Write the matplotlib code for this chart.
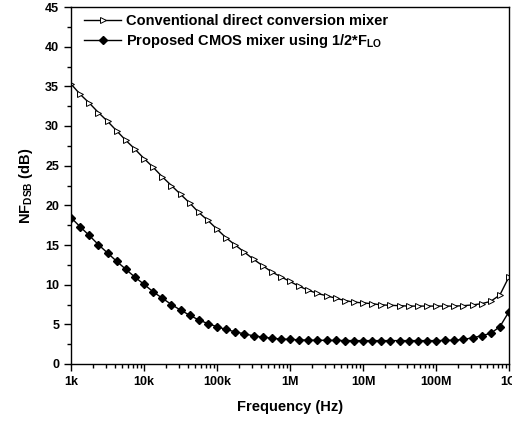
import numpy as np
import matplotlib
matplotlib.use('Agg')
import matplotlib.pyplot as plt
from matplotlib.ticker import LogLocator, MultipleLocator, NullFormatter

plt.rcParams['font.family'] = 'Liberation Sans'
plt.rcParams['font.weight'] = 'bold'
plt.rcParams['mathtext.fontset'] = 'custom'
plt.rcParams['mathtext.rm'] = 'Liberation Sans:bold'
plt.rcParams['mathtext.it'] = 'Liberation Sans:bold'
plt.rcParams['mathtext.bf'] = 'Liberation Sans:bold'

# 8 points per decade, 1 kHz .. 1 GHz
freq = np.logspace(3, 9, 49)

nf_conventional = [
    35.3, 34.0, 32.9, 31.7, 30.6, 29.4, 28.2, 27.1,
    25.9, 24.8, 23.6, 22.5, 21.4, 20.3, 19.1, 18.1,
    17.0, 15.9, 15.0, 14.1, 13.2, 12.4, 11.6, 11.0,
    10.4, 9.8, 9.3, 8.9, 8.6, 8.3, 8.0, 7.8,
    7.7, 7.6, 7.45, 7.4, 7.35, 7.3, 7.3, 7.3,
    7.3, 7.3, 7.3, 7.35, 7.45, 7.6, 7.9, 8.7,
    11.0,
]
nf_proposed = [
    18.45, 17.3, 16.2, 15.05, 14.0, 12.95, 11.95, 10.95,
    10.05, 9.1, 8.3, 7.5, 6.8, 6.15, 5.55, 5.1,
    4.7, 4.35, 4.05, 3.8, 3.55, 3.4, 3.25, 3.15,
    3.1, 3.05, 3.0, 3.0, 2.98, 2.97, 2.96, 2.95,
    2.95, 2.95, 2.95, 2.95, 2.95, 2.95, 2.95, 2.95,
    2.95, 2.97, 3.0, 3.1, 3.3, 3.57, 3.87, 4.7,
    6.6,
]

xticks = [1e3, 1e4, 1e5, 1e6, 1e7, 1e8, 1e9]
xtick_labels = ['1k', '10k', '100k', '1M', '10M', '100M', '1G']

fig = plt.figure(figsize=(5.12, 4.22), dpi=100)
ax = fig.add_axes([71 / 512, 58 / 422, 438 / 512, 357 / 422])

ax.plot(freq, nf_conventional, color='black', lw=1.0, marker='>', ms=5,
        mfc='white', mec='black', mew=0.7,
        label='Conventional direct conversion mixer')
ax.plot(freq, nf_proposed, color='black', lw=1.0, marker='D', ms=4.5,
        mfc='black', mec='black',
        label=r'Proposed CMOS mixer using 1/2*F$_{\mathrm{LO}}$')

ax.set_xscale('log')
ax.set_xlim(1e3, 1e9)
ax.set_ylim(0, 45)
ax.set_xticks(xticks)
ax.set_xticklabels(xtick_labels)
ax.xaxis.set_minor_locator(LogLocator(base=10, subs=np.arange(2, 10)))
ax.xaxis.set_minor_formatter(NullFormatter())
ax.yaxis.set_major_locator(MultipleLocator(5))
ax.yaxis.set_minor_locator(MultipleLocator(2.5))

ax.tick_params(which='major', direction='out', length=5, width=1, labelsize=9)
ax.tick_params(which='minor', direction='out', length=3, width=1)
for s in ax.spines.values():
    s.set_linewidth(1.0)

ax.set_xlabel('Frequency (Hz)', fontsize=10.5, fontweight='bold', labelpad=9)
ax.set_ylabel(r'NF$_{\mathrm{DSB}}$ (dB)', fontsize=10.5, fontweight='bold', labelpad=7)

ax.legend(loc='upper left', frameon=False, fontsize=10.5, handlelength=2.6,
          handletextpad=0.3, borderaxespad=0.1, labelspacing=0.25,
          bbox_to_anchor=(0.012, 1.0))

fig.savefig('out.png', dpi=100)
